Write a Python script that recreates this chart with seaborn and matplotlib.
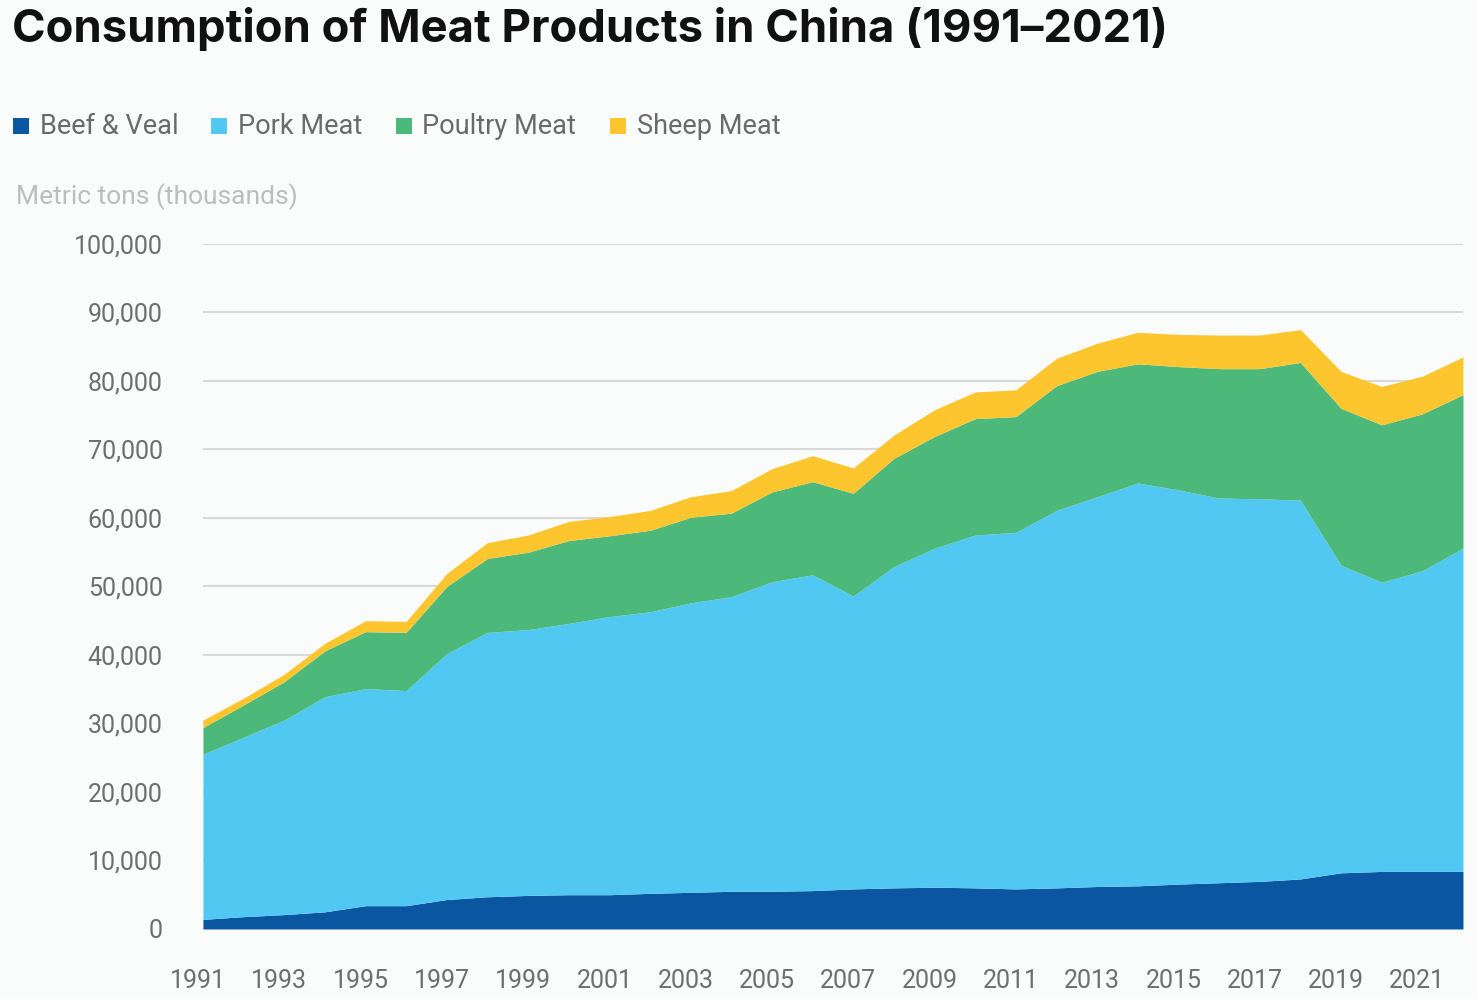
import numpy as np
import pandas as pd
import matplotlib
matplotlib.use("Agg")
import matplotlib.pyplot as plt
import matplotlib.transforms as mtransforms
import seaborn as sns
from matplotlib.patches import Rectangle

# ------------------------------------------------------------------
# Data (thousand metric tons)
# ------------------------------------------------------------------
years = list(range(1991, 2023))

beef = [1400, 1800, 2100, 2500, 3400, 3400, 4300, 4700, 4900, 5000,
        5000, 5200, 5350, 5500, 5500, 5600, 5850, 6000, 6100, 6000,
        5850, 6000, 6200, 6300, 6550, 6750, 6950, 7300, 8200, 8400,
        8400, 8400]
pork = [24100, 26200, 28400, 31400, 31700, 31400, 35900, 38600, 38800, 39600,
        40600, 41100, 42250, 43000, 45200, 46100, 42750, 46900, 49500, 51500,
        52050, 55100, 56900, 58800, 57550, 56150, 55850, 55300, 44900, 42200,
        43900, 47200]
poultry = [3900, 4700, 5600, 6700, 8300, 8500, 9800, 10800, 11300, 12100,
           11800, 11900, 12500, 12200, 13100, 13600, 15000, 15800, 16300, 17000,
           16900, 18200, 18300, 17400, 18000, 18900, 19000, 20100, 22900, 23000,
           22900, 22400]
sheep = [1100, 1000, 1100, 1100, 1600, 1600, 1900, 2300, 2500, 2800,
         2800, 2900, 3000, 3300, 3400, 3800, 3700, 3400, 3900, 3900,
         3900, 4000, 4100, 4600, 4700, 4900, 4900, 4800, 5400, 5600,
         5500, 5500]

labels = ["Beef & Veal", "Pork Meat", "Poultry Meat", "Sheep Meat"]
colors = ["#0A56A0", "#50C8F2", "#4CB97B", "#FEC62E"]

df = pd.DataFrame({"Year": years, "Beef & Veal": beef, "Pork Meat": pork,
                   "Poultry Meat": poultry, "Sheep Meat": sheep})

# ------------------------------------------------------------------
# Style
# ------------------------------------------------------------------
bg = "#FAFBFB"
sns.set_theme(style="white", rc={"figure.facecolor": bg, "axes.facecolor": bg})
plt.rcParams["font.family"] = ["Roboto", "DejaVu Sans"]

fig = plt.figure(figsize=(14.77, 9.99), dpi=100)
ax = fig.add_axes([0.1374, 0.0701, 0.8531, 0.6857])

ax.stackplot(df["Year"], [df[c] for c in labels], colors=colors,
             linewidth=0, zorder=3)

ax.set_xlim(1991, 2022)
ax.set_ylim(0, 100000)
ax.set_yticks(np.arange(0, 100001, 10000))
ax.yaxis.set_major_formatter(matplotlib.ticker.FuncFormatter(lambda v, p: f"{int(v):,}"))
ax.set_xticks(range(1991, 2022, 2))
ax.tick_params(axis="both", length=0, labelsize=18, labelcolor="#6E6E6E")
ax.tick_params(axis="y", pad=29)
ax.tick_params(axis="x", pad=29)
ax.grid(axis="y", color="#D9D9D9", linewidth=1.5, zorder=0)
ax.set_axisbelow(True)
sns.despine(ax=ax, left=True, bottom=True)
ax.set_xlabel("")
ax.set_ylabel("")

# year labels sit a few pixels left of their tick in the reference
shift = mtransforms.ScaledTranslation(-5 / 100, 0, fig.dpi_scale_trans)
for lab in ax.get_xticklabels():
    lab.set_transform(lab.get_transform() + shift)

# ------------------------------------------------------------------
# Title, legend, unit label
# ------------------------------------------------------------------
fig.text(0.008, 0.971, "Consumption of Meat Products in China (1991\u20132021)",
         fontsize=32.7, fontweight="bold", family=["Inter", "DejaVu Sans"],
         color="#111111", va="center", ha="left")

leg_x = [0.009, 0.143, 0.268, 0.413]
for x0, lab, col in zip(leg_x, labels, colors):
    fig.patches.append(Rectangle((x0, 0.866), 0.0108, 0.016, transform=fig.transFigure,
                                 facecolor=col, edgecolor="none"))
    fig.text(x0 + 0.018, 0.873, lab, fontsize=19.5, color="#6A6A6A", va="center", ha="left")

fig.text(0.011, 0.803, "Metric tons (thousands)", fontsize=19, color="#BDBDBD",
         va="center", ha="left")

fig.savefig("out.png", dpi=100, facecolor=bg)
